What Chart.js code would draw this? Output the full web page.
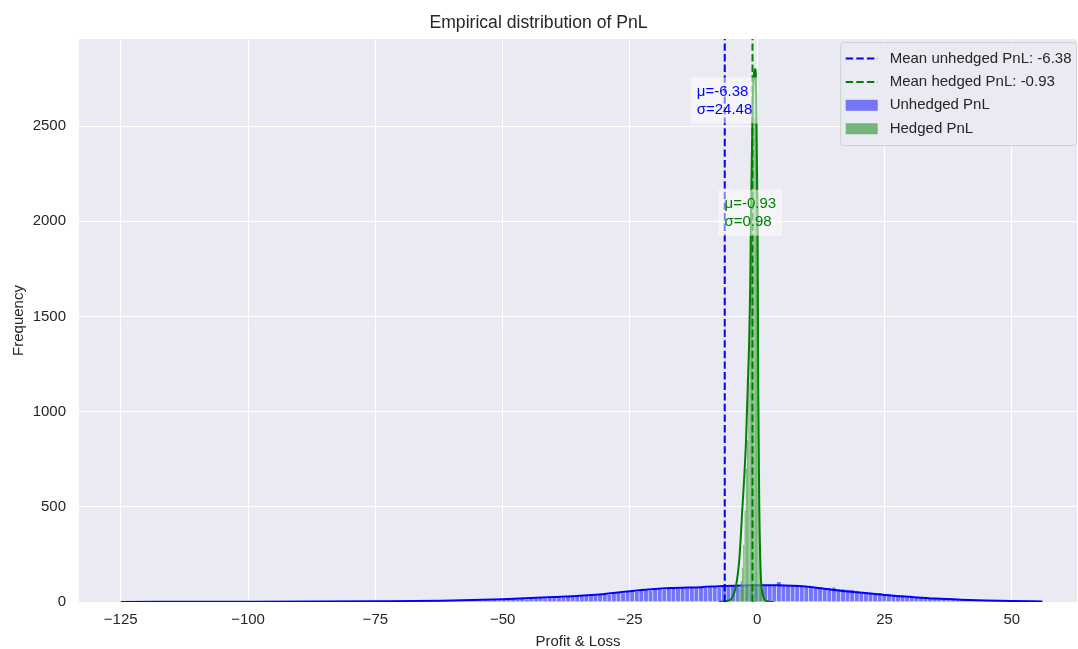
<!DOCTYPE html>
<html>
<head>
<meta charset="utf-8">
<script src="https://cdn.jsdelivr.net/npm/chart.js@4.4.1/dist/chart.umd.min.js"></script>
<style>
  html, body { margin: 0; padding: 0; background: #ffffff; }
</style>
</head>
<body>
<canvas id="pnlChart" width="1078" height="649"></canvas>
<script>
// summary stats shown in legend / annotations
const meanUnhedged = -6.38;
const stdUnhedged = 24.48;
const meanHedged = -0.93;
const stdHedged = 0.98;

// unhedged histogram (bins below -70 are ~0 and hidden under the kde line)
const unhedgedBinStart = -70;
const unhedgedBinWidth = 0.9;
const unhedgedCounts = [
  4, 6, 3, 5, 7, 4, 6, 5, 8, 6,
  7, 9, 6, 8, 10, 7, 11, 9, 12, 10,
  13, 11, 15, 14, 17, 16, 19, 15, 20, 18,
  22, 20, 24, 23, 27, 25, 29, 28, 31, 33,
  34, 38, 36, 41, 43, 40, 47, 50, 48, 54,
  57, 55, 61, 63, 60, 66, 68, 64, 71, 72,
  70, 75, 73, 78, 74, 80, 76, 79, 83, 78,
  84, 81, 86, 83, 88, 85, 82, 87, 89, 86,
  90, 85, 107, 88, 84, 89, 86, 83, 85, 81,
  78, 80, 75, 73, 77, 70, 68, 66, 64, 60,
  55, 52, 50, 47, 49, 44, 42, 40, 37, 35,
  33, 30, 28, 29, 25, 23, 21, 22, 18, 17,
  15, 14, 13, 12, 10, 11, 9, 8, 8, 7,
  6, 5, 6, 4, 5, 3, 4, 3, 2, 2
];

// hedged histogram
const hedgedBinStart = -4;
const hedgedBinWidth = 0.25;
const hedgedCounts = [
  20, 40, 70, 110, 180, 300, 480, 700, 850, 1150, 1500,
  1900, 2450, 2550, 2700, 2800, 1680, 600, 200, 80, 30, 10
];

// kde curves
const unhedgedKdeX = [-125, -100, -75, -62, -50, -40, -31, -25, -17, -11, -6.5, 0, 4, 10, 15, 20, 25, 30, 35, 40, 45, 50, 56];
const unhedgedKdeY = [0.5, 1.5, 4, 7, 15, 26, 40, 57, 73, 78, 84, 88, 88, 80, 63, 50, 37, 27, 18, 12, 8, 5, 3];

const hedgedKdeX = [-7.5, -6, -5, -4.2, -3.5, -2.9, -2.5, -2.2, -1.9, -1.6, -1.38, -1.2, -0.9, -0.45, -0.2, 0.06, 0.2, 0.4, 0.6, 0.75, 1, 1.4, 2, 3.3];
const hedgedKdeY = [0, 5, 20, 80, 230, 500, 680, 850, 1100, 1350, 1650, 2100, 2600, 2800, 2650, 2000, 1100, 500, 220, 110, 50, 15, 4, 0];

const xTicks = [-125, -100, -75, -50, -25, 0, 25, 50];
const yTicks = [0, 500, 1000, 1500, 2000, 2500];

const FONT = "'Liberation Sans', Arial, sans-serif";
const TEXT = '#262626';
const BLUE_FILL = 'rgba(0, 0, 255, 0.5)';
const GREEN_FILL = 'rgba(0, 128, 0, 0.5)';

function bins(start, width, counts) {
  return counts.map((c, i) => ({ x: start + width * (i + 0.5), y: c }));
}
function pts(xs, ys) {
  return xs.map((x, i) => ({ x: x, y: ys[i] }));
}
const yTop = 2957;

const annotations = [
  { x: meanUnhedged - 5.5, y: 2540, color: 'blue', lines: ['\u03bc=' + meanUnhedged.toFixed(2), '\u03c3=' + stdUnhedged.toFixed(2)] },
  { x: meanHedged - 5.5, y: 1950, color: 'green', lines: ['\u03bc=' + meanHedged.toFixed(2), '\u03c3=' + stdHedged.toFixed(2)] }
];

const legendItems = [
  { label: 'Mean unhedged PnL: ' + meanUnhedged.toFixed(2), kind: 'dash', color: 'blue' },
  { label: 'Mean hedged PnL: ' + meanHedged.toFixed(2), kind: 'dash', color: 'green' },
  { label: 'Unhedged PnL', kind: 'patch', color: BLUE_FILL },
  { label: 'Hedged PnL', kind: 'patch', color: GREEN_FILL }
];

const bgPlugin = {
  id: 'bg',
  beforeDraw(chart) {
    const a = chart.chartArea, ctx = chart.ctx;
    ctx.save();
    ctx.fillStyle = '#eaeaf2';
    ctx.fillRect(a.left, a.top, a.right - a.left, a.bottom - a.top);
    ctx.restore();
  }
};

const overlayPlugin = {
  id: 'overlay',
  afterDraw(chart) {
    const ctx = chart.ctx, xs = chart.scales.x, ys = chart.scales.y, a = chart.chartArea;
    ctx.save();
    ctx.font = '15px ' + FONT;
    ctx.textBaseline = 'middle';
    // text boxes
    annotations.forEach(an => {
      const px = xs.getPixelForValue(an.x), py = ys.getPixelForValue(an.y);
      const lh = 18;
      const w = Math.max(...an.lines.map(l => ctx.measureText(l).width));
      const h = lh * an.lines.length;
      ctx.fillStyle = 'rgba(255,255,255,0.5)';
      ctx.fillRect(px - 6, py - h - 5, w + 12, h + 10);
      ctx.fillStyle = an.color;
      ctx.textAlign = 'left';
      an.lines.forEach((l, i) => ctx.fillText(l, px, py - h + lh * (i + 0.5)));
    });
    // legend
    const tw = Math.max(...legendItems.map(it => ctx.measureText(it.label).width));
    const boxW = tw + 54, boxH = 103;
    const bx = a.right - 1 - boxW, by = a.top + 3;
    ctx.fillStyle = 'rgba(234,234,242,0.85)';
    ctx.strokeStyle = 'rgba(204,204,204,0.9)';
    ctx.lineWidth = 1;
    ctx.beginPath();
    ctx.roundRect(bx + 0.5, by + 0.5, boxW, boxH, 3);
    ctx.fill();
    ctx.stroke();
    legendItems.forEach((it, i) => {
      const cy = by + 16.5 + i * 23.4;
      const hx = bx + 5.5;
      if (it.kind === 'dash') {
        ctx.strokeStyle = it.color;
        ctx.lineWidth = 2;
        ctx.setLineDash([7.4, 3.2]);
        ctx.beginPath();
        ctx.moveTo(hx, cy);
        ctx.lineTo(hx + 32, cy);
        ctx.stroke();
        ctx.setLineDash([]);
      } else {
        ctx.fillStyle = it.color;
        ctx.fillRect(hx, cy - 5.5, 32, 11);
      }
      ctx.fillStyle = TEXT;
      ctx.textAlign = 'left';
      ctx.fillText(it.label, bx + 49.5, cy);
    });
    ctx.restore();
  }
};

const ctx = document.getElementById('pnlChart').getContext('2d');

const pnlChart = new Chart(ctx, {
  type: 'bar',
  data: {
    datasets: [
      {
        type: 'line', label: 'Mean unhedged PnL', xAxisID: 'x',
        data: [{ x: meanUnhedged, y: 0 }, { x: meanUnhedged, y: yTop }],
        borderColor: 'blue', borderWidth: 2, borderDash: [7.4, 3.2],
        pointRadius: 0, order: 0
      },
      {
        type: 'line', label: 'Mean hedged PnL', xAxisID: 'x',
        data: [{ x: meanHedged, y: 0 }, { x: meanHedged, y: yTop }],
        borderColor: 'green', borderWidth: 2, borderDash: [7.4, 3.2],
        pointRadius: 0, order: 0
      },
      {
        type: 'line', label: 'Hedged KDE', xAxisID: 'x',
        data: pts(hedgedKdeX, hedgedKdeY),
        borderColor: 'green', borderWidth: 2, pointRadius: 0,
        cubicInterpolationMode: 'monotone', order: 1
      },
      {
        label: 'Hedged PnL', xAxisID: 'x2',
        data: bins(hedgedBinStart, hedgedBinWidth, hedgedCounts),
        backgroundColor: GREEN_FILL, borderColor: 'rgba(255,255,255,0.4)', borderWidth: 0.3,
        barPercentage: 1, categoryPercentage: 1, grouped: false, order: 2
      },
      {
        type: 'line', label: 'Unhedged KDE', xAxisID: 'x',
        data: pts(unhedgedKdeX, unhedgedKdeY),
        borderColor: 'blue', borderWidth: 2, pointRadius: 0,
        cubicInterpolationMode: 'monotone', order: 3
      },
      {
        label: 'Unhedged PnL', xAxisID: 'x',
        data: bins(unhedgedBinStart, unhedgedBinWidth, unhedgedCounts),
        backgroundColor: BLUE_FILL, borderColor: 'rgba(255,255,255,0.6)', borderWidth: 0.6,
        barPercentage: 1, categoryPercentage: 1, grouped: false, order: 4
      }
    ]
  },
  options: {
    responsive: false,
    animation: false,
    layout: { padding: { right: 1 } },
    plugins: {
      legend: { display: false },
      tooltip: { enabled: false },
      title: {
        display: true,
        text: 'Empirical distribution of PnL',
        color: TEXT,
        font: { family: FONT, size: 17.6, weight: 'normal' },
        padding: { top: 13, bottom: 4.9 }
      }
    },
    scales: {
      x: {
        type: 'linear', min: -133.2, max: 62.8, offset: false,
        grid: { color: '#ffffff', lineWidth: 1, drawTicks: false, offset: false },
        border: { display: false },
        afterBuildTicks: s => { s.ticks = xTicks.map(v => ({ value: v })); },
        afterFit: s => { s.height = 47; },
        ticks: {
          color: TEXT, padding: 9, maxRotation: 0,
          font: { family: FONT, size: 15 },
          callback: v => String(v).replace('-', '\u2212')
        },
        title: {
          display: true, text: 'Profit & Loss', color: TEXT,
          font: { family: FONT, size: 15 }, padding: { top: 0, bottom: -2 }
        }
      },
      x2: {
        type: 'linear', min: -133.2, max: 62.8, offset: false, display: false,
        grid: { display: false }
      },
      y: {
        min: 0, max: yTop,
        grid: { color: '#ffffff', lineWidth: 1, drawTicks: false },
        border: { display: false },
        afterBuildTicks: s => { s.ticks = yTicks.map(v => ({ value: v })); },
        afterFit: s => { s.width = 79; },
        ticks: {
          color: TEXT, padding: 13, font: { family: FONT, size: 15 },
          callback: v => String(v)
        },
        title: {
          display: true, text: 'Frequency', color: TEXT,
          font: { family: FONT, size: 15 }, padding: { top: 10, bottom: 0 }
        }
      }
    }
  },
  plugins: [bgPlugin, overlayPlugin]
});
</script>
</body>
</html>
